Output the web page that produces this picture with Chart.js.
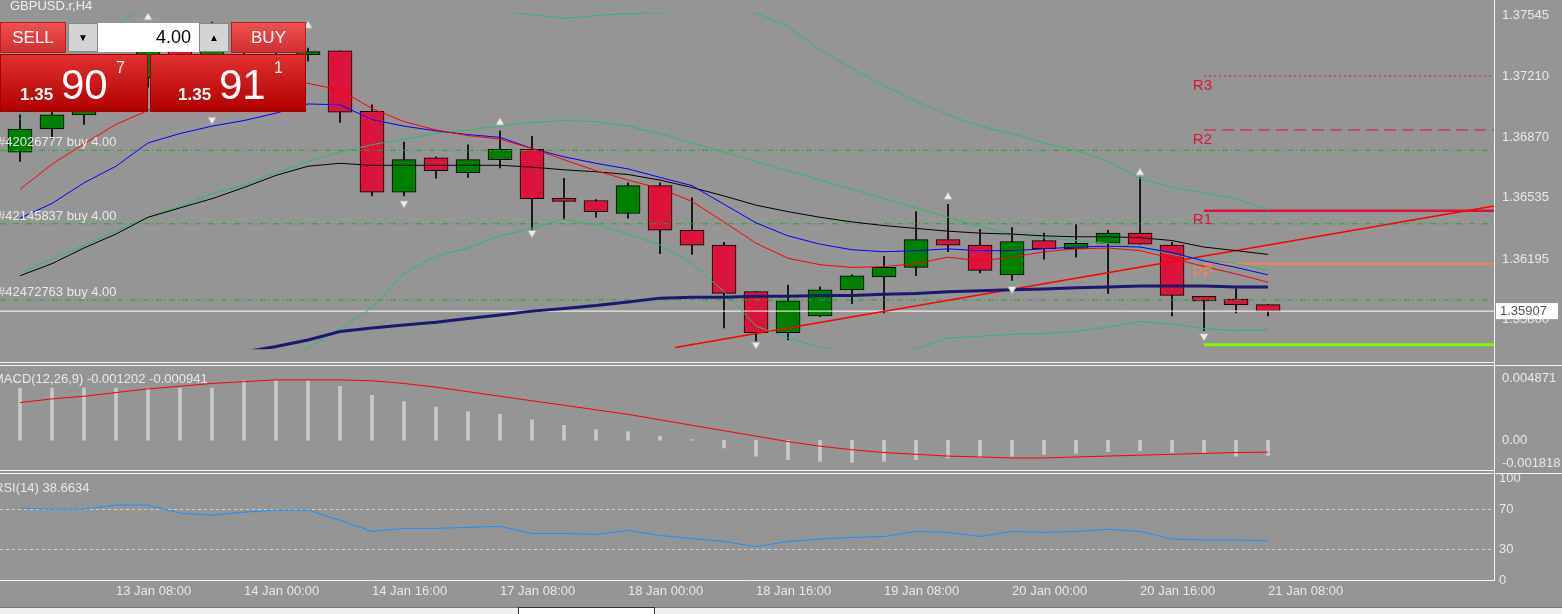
<!DOCTYPE html>
<html><head><meta charset="utf-8">
<script src="https://cdn.jsdelivr.net/npm/chart.js@4"></script>
<style>
body{margin:0;width:1562px;height:614px;background:#959595;overflow:hidden;font-family:"Liberation Sans",Arial,sans-serif;position:relative}
canvas{position:absolute;left:0}
.hl{position:absolute;background:#f4f4f4}
.btn{position:absolute;color:#fff;font-size:17px;display:flex;align-items:center;justify-content:center;background:linear-gradient(#f05050,#d03030);border:1px solid #b02020;box-sizing:border-box}
.pbox{position:absolute;top:54px;height:58px;background:linear-gradient(#e03030,#b00000);color:#fff;box-sizing:border-box;border:1px solid #a00000}
.pbox .s{position:absolute;font-weight:bold;font-size:17px;top:30px}
.pbox .b{position:absolute;font-size:42px;top:6px}
.pbox .u{position:absolute;font-size:16px;top:4px}
</style></head><body>
<canvas id="main" width="1562" height="362" style="top:0"></canvas>
<canvas id="macd" width="1562" height="120" style="top:358px"></canvas>
<canvas id="rsi" width="1562" height="150" style="top:466px"></canvas>
<div class="hl" style="left:0;top:362px;width:1494px;height:1px"></div>
<div class="hl" style="left:0;top:365px;width:1562px;height:1px"></div>
<div class="hl" style="left:0;top:470px;width:1494px;height:1px"></div>
<div class="hl" style="left:0;top:473px;width:1562px;height:1px"></div>
<div class="hl" style="left:1494px;top:0;width:1px;height:580px"></div>
<div style="position:absolute;left:0;top:607px;width:1562px;height:7px;background:#f0f0f0;border-top:1px solid #777"></div>
<div style="position:absolute;left:518px;top:607px;width:135px;height:7px;background:#fff;border:1px solid #333"></div>
<div style="position:absolute;left:10px;top:-2px;color:#eee;font-size:13px">GBPUSD.r,H4</div>
<div class="btn" style="left:0;top:22px;width:66px;height:31px">SELL</div>
<div style="position:absolute;left:68px;top:23px;width:30px;height:29px;background:#d4d4d4;border:1px solid #888;box-sizing:border-box;font-size:10px;text-align:center;line-height:27px">&#9660;</div>
<div style="position:absolute;left:98px;top:23px;width:101px;height:29px;background:#fff;font-size:18px;text-align:right;line-height:29px;padding-right:8px;box-sizing:border-box">4.00</div>
<div style="position:absolute;left:199px;top:23px;width:30px;height:29px;background:#d4d4d4;border:1px solid #888;box-sizing:border-box;font-size:10px;text-align:center;line-height:27px">&#9650;</div>
<div class="btn" style="left:231px;top:22px;width:75px;height:31px">BUY</div>
<div class="pbox" style="left:0;width:148px"><span class="s" style="left:19px">1.35</span><span class="b" style="left:60px">90</span><span class="u" style="left:115px">7</span></div>
<div class="pbox" style="left:150px;width:156px"><span class="s" style="left:27px">1.35</span><span class="b" style="left:68px">91</span><span class="u" style="left:123px">1</span></div>
<script>
const timeLabels=["13 Jan 08:00","14 Jan 00:00","14 Jan 16:00","17 Jan 08:00","18 Jan 00:00","18 Jan 16:00","19 Jan 08:00","20 Jan 00:00","20 Jan 16:00","21 Jan 08:00"];
const timeTickIdx=[3,7,11,15,19,23,27,31,35,39];
const priceTicks=[1.37545,1.37210,1.36870,1.36535,1.36195,1.35860];
const macdTicks=[0.004871,0,-0.001818];
const rsiTicks=[100,70,30,0];
const opens=[1.36788,1.36916,1.36994,1.37097,1.37200,1.37354,1.37303,1.37431,1.37380,1.37328,1.37349,1.37014,1.36566,1.36757,1.36674,1.36746,1.36803,1.36525,1.36520,1.36448,1.36602,1.36355,1.36273,1.36015,1.35788,1.35881,1.36025,1.36097,1.36149,1.36303,1.36273,1.36108,1.36298,1.36252,1.36283,1.36339,1.36273,1.35989,1.35974,1.35943];
const closes=[1.36916,1.36994,1.37097,1.37200,1.37354,1.37303,1.37431,1.37380,1.37457,1.37344,1.37009,1.36566,1.36746,1.36685,1.36746,1.36803,1.36530,1.36515,1.36458,1.36602,1.36355,1.36273,1.36005,1.35788,1.35964,1.36025,1.36103,1.36149,1.36303,1.36273,1.36133,1.36293,1.36252,1.36283,1.36339,1.36278,1.35994,1.35964,1.35943,1.35907];
const highs=[1.36994,1.37071,1.37148,1.37277,1.37457,1.37431,1.37509,1.37483,1.37498,1.37364,1.37349,1.37050,1.36844,1.36762,1.36829,1.36906,1.36875,1.36643,1.36525,1.36618,1.36618,1.36535,1.36288,1.36015,1.36051,1.36041,1.36108,1.36211,1.36458,1.36499,1.36360,1.36370,1.36339,1.36386,1.36355,1.36648,1.36288,1.35989,1.36030,1.35943];
const lows=[1.36736,1.36865,1.36942,1.37045,1.37148,1.37251,1.37251,1.37328,1.37303,1.37292,1.36952,1.36545,1.36545,1.36643,1.36648,1.36700,1.36360,1.36417,1.36427,1.36422,1.36226,1.36221,1.35814,1.35742,1.35747,1.35876,1.35948,1.35897,1.36103,1.36236,1.36118,1.36077,1.36195,1.36206,1.36005,1.36278,1.35881,1.35799,1.35897,1.35881];
const maFast=[1.36582,1.36721,1.36834,1.36942,1.37019,1.37081,1.37122,1.37148,1.37163,1.37169,1.37133,1.37030,1.36957,1.36911,1.36880,1.36860,1.36808,1.36746,1.36685,1.36633,1.36587,1.36515,1.36401,1.36283,1.36200,1.36164,1.36149,1.36154,1.36170,1.36206,1.36185,1.36206,1.36236,1.36252,1.36257,1.36242,1.36200,1.36154,1.36113,1.36067];
const maMid=[1.36422,1.36504,1.36618,1.36710,1.36839,1.36891,1.36932,1.36963,1.37004,1.37055,1.37050,1.36968,1.36932,1.36906,1.36885,1.36870,1.36808,1.36762,1.36726,1.36695,1.36648,1.36602,1.36499,1.36396,1.36324,1.36278,1.36247,1.36236,1.36242,1.36252,1.36242,1.36242,1.36252,1.36262,1.36267,1.36262,1.36231,1.36185,1.36149,1.36108];
const maSlow=[1.36103,1.36170,1.36257,1.36334,1.36427,1.36479,1.36530,1.36592,1.36659,1.36710,1.36726,1.36715,1.36715,1.36715,1.36715,1.36715,1.36705,1.36690,1.36679,1.36664,1.36633,1.36592,1.36545,1.36494,1.36458,1.36427,1.36401,1.36381,1.36365,1.36350,1.36339,1.36334,1.36324,1.36319,1.36319,1.36314,1.36298,1.36262,1.36242,1.36221];
const maLong=[1.35397,1.35449,1.35500,1.35541,1.35577,1.35613,1.35649,1.35680,1.35711,1.35747,1.35794,1.35814,1.35830,1.35845,1.35866,1.35886,1.35907,1.35922,1.35938,1.35958,1.35979,1.35984,1.35984,1.35989,1.35989,1.35994,1.35994,1.36000,1.36005,1.36015,1.36020,1.36025,1.36030,1.36036,1.36041,1.36046,1.36046,1.36046,1.36041,1.36041];
const bbUpper=[1.36968,1.37148,1.37328,1.37483,1.37612,1.37689,1.37740,1.37766,1.37766,1.37740,1.37715,1.37663,1.37637,1.37612,1.37586,1.37570,1.37550,1.37529,1.37545,1.37555,1.37560,1.37570,1.37575,1.37560,1.37483,1.37354,1.37251,1.37158,1.37071,1.36994,1.36932,1.36891,1.36839,1.36798,1.36736,1.36643,1.36592,1.36561,1.36530,1.36468];
const bbMiddle=[1.36118,1.36195,1.36273,1.36350,1.36427,1.36489,1.36556,1.36607,1.36674,1.36736,1.36788,1.36829,1.36860,1.36891,1.36911,1.36932,1.36952,1.36963,1.36957,1.36932,1.36891,1.36839,1.36788,1.36736,1.36685,1.36633,1.36582,1.36530,1.36479,1.36427,1.36376,1.36334,1.36314,1.36298,1.36283,1.36262,1.36221,1.36190,1.36170,1.36133];
const bbLower=[1.35088,1.35140,1.35191,1.35243,1.35294,1.35346,1.35423,1.35500,1.35603,1.35706,1.35809,1.35927,1.36118,1.36211,1.36257,1.36324,1.36365,1.36417,1.36386,1.36334,1.36273,1.36170,1.36015,1.35824,1.35758,1.35706,1.35680,1.35680,1.35696,1.35758,1.35768,1.35778,1.35783,1.35794,1.35819,1.35850,1.35835,1.35809,1.35799,1.35804];
const fractalUpIdx=[4,9,15,29,35], fractalUpVal=[1.37534,1.37488,1.36952,1.36540,1.36674];
const fractalDnIdx=[6,12,16,23,31,37], fractalDnVal=[1.36968,1.36504,1.36340,1.35721,1.36030,1.35768];
const trendIdx=[20.47,46.06], trendVal=[1.35706,1.36489];
const pivotNames=["R3","R2","R1","PP"], pivotVals=[1.37210,1.36911,1.36463,1.36170];
const supportVal=1.35721;
const orderNames=["#42026777 buy 4.00","#42145837 buy 4.00","#42472763 buy 4.00"], orderVals=[1.36798,1.36391,1.35969];
const bidPrice=1.35907;
const macdHist=[0.00412,0.00412,0.00412,0.00412,0.00412,0.00412,0.00412,0.00469,0.00469,0.00469,0.00426,0.00354,0.00304,0.00261,0.00226,0.00204,0.00161,0.00118,0.00082,0.00068,0.00032,0.00005,-0.00061,-0.00125,-0.00154,-0.00168,-0.00175,-0.00168,-0.00154,-0.00140,-0.00132,-0.00125,-0.00111,-0.00104,-0.00090,-0.00082,-0.00097,-0.00104,-0.00125,-0.001202];
const macdSignal=[0.00297,0.00326,0.00347,0.00376,0.00405,0.00426,0.00448,0.00462,0.00476,0.00476,0.00476,0.00469,0.00448,0.00419,0.00383,0.00347,0.00311,0.00276,0.00240,0.00204,0.00161,0.00118,0.00075,0.00032,-0.00011,-0.00047,-0.00075,-0.00097,-0.00111,-0.00125,-0.00132,-0.00140,-0.00140,-0.00132,-0.00125,-0.00118,-0.00111,-0.00104,-0.00097,-0.000941];
const rsiVals=[71,70,70,74,74,66,64,67,69,69,59,48,51,51,52,53,46,46,45,49,44,41,38,33,38,40.5,42,43,48,47,43,48,47,48,50,48,40.5,39.5,39.5,38.6634];

const XMIN=-0.625, XMAX=46.06, AXW=68;
const FONT={family:"Liberation Sans",size:13};
const TXT='#e8e8e8';
const pts=a=>a.map((v,i)=>({x:i,y:v}));
const line=(a,c,w,extra)=>Object.assign({type:'line',data:pts(a),borderColor:c,borderWidth:w,pointRadius:0,tension:0,order:1},extra||{});
const seg=(xs,ys,c,w,dash)=>({type:'line',data:[{x:xs[0],y:ys[0]},{x:xs[1],y:ys[1]}],borderColor:c,borderWidth:w,borderDash:dash||[],pointRadius:0,order:2});
const yAxis=(min,max,ticks,fmt,extra)=>Object.assign({position:'right',min,max,afterFit:s=>{s.width=AXW},afterBuildTicks:s=>{s.ticks=ticks.map(v=>({value:v}))},
  ticks:{color:TXT,font:FONT,padding:5,callback:fmt,autoSkip:false},grid:{display:false,drawTicks:true,tickLength:3,color:'#f0f0f0'},border:{color:'#f0f0f0'}},extra||{});
const xHidden={type:'linear',min:XMIN,max:XMAX,display:false,offset:false};
Chart.defaults.animation=false;
Chart.defaults.plugins.legend.display=false;
Chart.defaults.plugins.tooltip.enabled=false;
Chart.defaults.maintainAspectRatio=false;
Chart.defaults.responsive=false;

const up=i=>closes[i]>=opens[i];
const pivotColors=['#dc143c','#dc143c','#dc143c','#ff7f50'];
const fixArea={id:'fixArea',afterLayout(ch){const a=ch.chartArea;if(a.left!==0){const x=ch.scales.x;x.left=0;a.left=0;x.width=x.right-x.left;x.configure&&x.configure();}}};
const mainPlugin={id:'mainOverlay',afterDatasetsDraw(ch){
  const c=ch.ctx,x=ch.scales.x,y=ch.scales.y;
  c.save();c.font='13px "Liberation Sans"';c.textBaseline='bottom';c.fillStyle=TXT;
  orderNames.forEach((n,k)=>c.fillText(n,-2,y.getPixelForValue(orderVals[k])-1));
  c.font='15px "Liberation Sans"';c.textBaseline='top';
  pivotNames.forEach((n,k)=>{c.fillStyle=pivotColors[k];c.fillText(n,x.getPixelForValue(36.65),y.getPixelForValue(pivotVals[k])+2);});
  c.restore();},
 afterDraw(ch){const c=ch.ctx,y=ch.scales.y;const py=y.getPixelForValue(bidPrice);
  c.save();c.fillStyle='#ffffff';c.fillRect(1496,py-8,62,16);c.fillStyle='#505050';c.font='13px "Liberation Sans"';c.textBaseline='middle';c.fillText(bidPrice.toFixed(5),1500,py);c.restore();}};

new Chart(document.getElementById('main'),{type:'bar',data:{datasets:[
  {type:'scatter',data:fractalUpIdx.map((v,k)=>({x:v,y:fractalUpVal[k]})),pointStyle:'triangle',pointRadius:5,backgroundColor:'#eeeedd',borderColor:'#aaa',borderWidth:1,order:0},
  {type:'scatter',data:fractalDnIdx.map((v,k)=>({x:v,y:fractalDnVal[k]})),pointStyle:'triangle',rotation:180,pointRadius:5,backgroundColor:'#eeeedd',borderColor:'#aaa',borderWidth:1,order:0},
  line(maFast,'#ff0000',1),line(maMid,'#0000ff',1),line(maSlow,'#000000',1),line(maLong,'#191970',3),
  line(bbUpper,'#2eb873',1),line(bbMiddle,'#2eb873',1),line(bbLower,'#2eb873',1),
  seg(trendIdx,trendVal,'#ff0000',1.5),
  seg([37,XMAX],[pivotVals[0],pivotVals[0]],'#dc143c',1,[2,3]),
  seg([37,XMAX],[pivotVals[1],pivotVals[1]],'#dc143c',1,[12,6]),
  seg([37,XMAX],[pivotVals[2],pivotVals[2]],'#dc143c',2.5),
  seg([37,XMAX],[pivotVals[3],pivotVals[3]],'#ff7f50',2),
  seg([37,XMAX],[supportVal,supportVal],'#7cfc00',3),
  ...orderVals.map(v=>seg([XMIN,XMAX],[v,v],'#22aa22',1,[6,3,1,3])),
  seg([XMIN,XMAX],[bidPrice,bidPrice],'#ffffff',1),
  {type:'bar',data:highs.map((h,i)=>({x:i,y:[lows[i],h]})),backgroundColor:'#000',barThickness:1,grouped:false,order:6},
  {type:'bar',data:opens.map((o,i)=>({x:i,y:[o,closes[i]]})),backgroundColor:opens.map((o,i)=>up(i)?'#008000':'#dc143c'),borderColor:'#000',borderWidth:1,borderSkipped:false,barThickness:24,grouped:false,order:5,minBarLength:3}
]},options:{layout:{padding:0},scales:{x:xHidden,y:yAxis(1.35696,1.37560,priceTicks,v=>v.toFixed(5))}},plugins:[fixArea,mainPlugin]});

const macdPlugin={id:'macdT',afterDatasetsDraw(ch){const c=ch.ctx;c.save();c.font='13px "Liberation Sans"';c.fillStyle=TXT;c.textBaseline='top';c.fillText('MACD(12,26,9) -0.001202 -0.000941',-7,ch.chartArea.top+2);c.restore();}};
new Chart(document.getElementById('macd'),{type:'bar',data:{datasets:[
  line(macdSignal,'#ff0000',1),
  {type:'bar',data:macdHist.map((v,i)=>({x:i,y:v})),backgroundColor:'#c8c8c8',barThickness:3,grouped:false,order:3}
]},options:{layout:{padding:{top:8,bottom:8}},scales:{x:xHidden,y:yAxis(-0.00197,0.005477,macdTicks,v=>v===0?'0.00':v.toFixed(6))}},plugins:[fixArea,macdPlugin]});

const rsiPlugin={id:'rsiT',afterDatasetsDraw(ch){const c=ch.ctx;c.save();c.font='13px "Liberation Sans"';c.fillStyle=TXT;c.textBaseline='top';c.fillText('RSI(14) 38.6634',-6,ch.chartArea.top+3);c.restore();}};
new Chart(document.getElementById('rsi'),{type:'line',data:{datasets:[line(rsiVals,'#1e90ff',1)]},
 options:{layout:{padding:{top:8,bottom:0}},scales:{
  x:{type:'linear',offset:false,min:XMIN,max:XMAX,afterFit:s=>{s.height=36},afterBuildTicks:s=>{s.ticks=timeTickIdx.map(v=>({value:v}))},
     ticks:{color:TXT,font:FONT,align:'start',padding:4,maxRotation:0,autoSkip:false,callback:(v,k)=>timeLabels[k]},
     grid:{display:true,drawOnChartArea:false,tickLength:0,color:'#f0f0f0'},border:{color:'#f0f0f0'}},
  y:yAxis(0,100,rsiTicks,v=>String(v),{grid:{display:true,drawTicks:false,color:c=>(c.tick&&(c.tick.value===70||c.tick.value===30))?'#d0d0d0':'rgba(0,0,0,0)'},border:{color:'#f0f0f0',dash:[3,3]}})}},
 plugins:[rsiPlugin]});
</script></body></html>
